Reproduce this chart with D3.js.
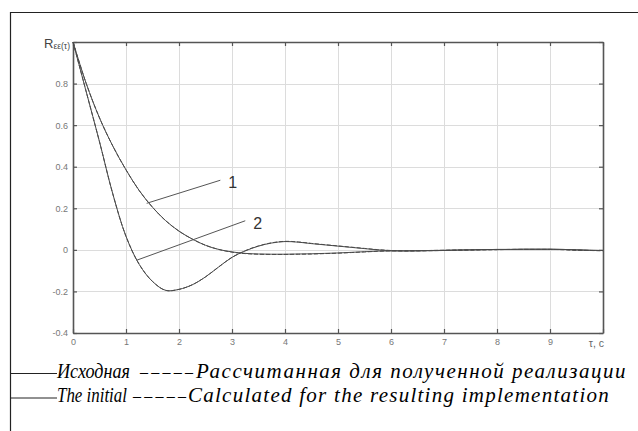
<!DOCTYPE html>
<html><head><meta charset="utf-8">
<script src="https://cdn.jsdelivr.net/npm/d3@7"></script>
<style>html,body{margin:0;padding:0;background:#fff;}svg{display:block;}</style>
</head><body>
<svg id="chart" width="638" height="431"></svg>
<script>
// ---- data ----
const tau = [0,0.25,0.5,0.75,1,1.25,1.5,1.75,2,2.25,2.5,2.75,3,3.25,3.5,3.75,4,4.25,4.5,4.75,5,5.25,5.5,5.75,6,6.25,6.5,6.75,7,7.25,7.5,7.75,8,8.25,8.5,8.75,9,9.25,9.5,9.75,10];
const r1Initial = [1.0,0.80,0.635,0.50,0.385,0.285,0.205,0.14,0.09,0.052,0.022,0.002,-0.01,-0.017,-0.02,-0.021,-0.021,-0.02,-0.019,-0.017,-0.015,-0.012,-0.009,-0.006,-0.005,-0.005,-0.004,-0.003,-0.002,-0.001,0.0,0.001,0.002,0.002,0.003,0.003,0.003,0.002,0.0,-0.002,-0.003];
const r1Calc    = [1.0,0.80,0.635,0.50,0.385,0.285,0.205,0.14,0.09,0.052,0.022,0.002,-0.011,-0.018,-0.021,-0.022,-0.022,-0.021,-0.02,-0.018,-0.016,-0.013,-0.01,-0.007,-0.005,-0.005,-0.004,-0.003,-0.002,-0.001,0.0,0.001,0.001,0.002,0.002,0.002,0.002,0.001,-0.002,-0.003,-0.004];
const r2Initial = [1.0,0.76,0.52,0.27,0.065,-0.07,-0.152,-0.195,-0.19,-0.168,-0.13,-0.082,-0.036,-0.005,0.018,0.033,0.04,0.037,0.03,0.024,0.018,0.012,0.006,0.0,-0.004,-0.005,-0.005,-0.004,-0.003,-0.001,0.0,0.001,0.002,0.002,0.003,0.003,0.003,0.002,0.0,-0.002,-0.003];
const r2Calc    = [1.0,0.76,0.52,0.27,0.065,-0.07,-0.152,-0.195,-0.19,-0.168,-0.13,-0.082,-0.036,-0.004,0.019,0.034,0.041,0.038,0.031,0.025,0.019,0.013,0.007,0.001,-0.003,-0.005,-0.005,-0.004,-0.003,-0.002,-0.001,0.0,0.001,0.002,0.002,0.002,0.002,0.001,-0.001,-0.003,-0.004];
const xTicks = [0,1,2,3,4,5,6,7,8,9,10];
const yTicks = [-0.4,-0.2,0,0.2,0.4,0.6,0.8,1.0];
const yTickLabels = ["-0.4","-0.2","0","0.2","0.4","0.6","0.8",""];
const xTickLabels = ["0","1","2","3","4","5","6","7","8","9",""];
const annotations = [
  {label:"1", from:[1.39,0.224], to:[2.78,0.335]},
  {label:"2", from:[1.20,-0.05], to:[3.25,0.14]}
];
const legendRows = [
  {solid:"Исходная", dashed:"Рассчитанная для полученной реализации"},
  {solid:"The initial", dashed:"Calculated for the resulting implementation"}
];

// ---- layout ----
const svg = d3.select("#chart");
const L = 73, R = 603, T = 42, B = 333;
const x = d3.scaleLinear().domain([0,10]).range([L,R]);
const y = d3.scaleLinear().domain([-0.4,1.0]).range([B,T]);

// outer frame
svg.append("line").attr("x1",10).attr("x2",638).attr("y1",12.5).attr("y2",12.5).attr("stroke","#222").attr("stroke-width",1.2);
svg.append("line").attr("x1",10.5).attr("x2",10.5).attr("y1",12).attr("y2",431).attr("stroke","#222").attr("stroke-width",1.2);

// grid
const grid = svg.append("g").attr("stroke","#dcdcdc").attr("stroke-width",1);
grid.selectAll("line.v").data(xTicks.slice(1,-1)).join("line")
  .attr("x1",d=>Math.round(x(d))+0.5).attr("x2",d=>Math.round(x(d))+0.5).attr("y1",T).attr("y2",B);
grid.selectAll("line.h").data(yTicks.slice(1,-1)).join("line")
  .attr("y1",d=>Math.round(y(d))+0.5).attr("y2",d=>Math.round(y(d))+0.5).attr("x1",L).attr("x2",R);

// axes
const fmtX = d=>xTickLabels[xTicks.indexOf(d)];
const fmtY = d=>yTickLabels[yTicks.findIndex(v=>Math.abs(v-d)<1e-9)];
const gB = svg.append("g").attr("transform",`translate(0,${B})`)
  .call(d3.axisBottom(x).tickValues(xTicks).tickFormat(fmtX).tickSizeInner(-4).tickSizeOuter(0).tickPadding(6));
const gT = svg.append("g").attr("transform",`translate(0,${T})`)
  .call(d3.axisTop(x).tickValues(xTicks).tickFormat("").tickSizeInner(-4).tickSizeOuter(0));
const gL = svg.append("g").attr("transform",`translate(${L},0)`)
  .call(d3.axisLeft(y).tickValues(yTicks).tickFormat(fmtY).tickSizeInner(-4).tickSizeOuter(0).tickPadding(5));
const gR = svg.append("g").attr("transform",`translate(${R},0)`)
  .call(d3.axisRight(y).tickValues(yTicks).tickFormat("").tickSizeInner(-4).tickSizeOuter(0));
[gB,gT,gL,gR].forEach(g=>{
  g.select(".domain").attr("stroke","#555").attr("stroke-width",1.6);
  g.selectAll(".tick line").attr("stroke","#555").attr("stroke-width",1.2);
  g.selectAll(".tick text").attr("fill","#777").style("font-family","'Liberation Sans', Arial, sans-serif").style("font-size","9px");
});

// axis titles
const yl = svg.append("text").attr("x",70).attr("y",48).attr("text-anchor","end")
  .style("font-family","'Liberation Sans', Arial, sans-serif").attr("fill","#444");
yl.append("tspan").text("R").style("font-size","13px");
yl.append("tspan").text("εε(τ)").style("font-size","8.5px").attr("dy",1);
svg.append("text").attr("x",R+1).attr("y",347).attr("text-anchor","end")
  .style("font-family","'Liberation Sans', Arial, sans-serif").style("font-size","10.5px").attr("fill","#666").text("τ, c");

// curves
const line = d3.line().x((d,i)=>x(tau[i])).y(d=>y(d)).curve(d3.curveCatmullRom.alpha(0.5));
const series = [
  {v:r1Initial, dash:null},
  {v:r2Initial, dash:null},
  {v:r1Calc, dash:"4,2"},
  {v:r2Calc, dash:"4,2"}
];
svg.append("g").selectAll("path").data(series).join("path")
  .attr("d",d=>line(d.v)).attr("fill","none").attr("stroke","#4a4a4a").attr("stroke-width",1)
  .attr("stroke-dasharray",d=>d.dash);

// annotations
const ann = svg.append("g");
ann.selectAll("line").data(annotations).join("line")
  .attr("x1",d=>x(d.from[0])).attr("y1",d=>y(d.from[1]))
  .attr("x2",d=>x(d.to[0])).attr("y2",d=>y(d.to[1]))
  .attr("stroke","#555").attr("stroke-width",1);
ann.selectAll("text").data(annotations).join("text")
  .attr("x",d=>x(d.to[0])+8).attr("y",d=>y(d.to[1])+8)
  .style("font-family","'Liberation Sans', Arial, sans-serif").style("font-size","16px").attr("fill","#333")
  .text(d=>d.label);

// legend (table-like rows)
const rowY = [373.5, 398];
const base = [377.5, 401.5];
const solidSpan = [[57,73],[57,70]];
const dashSpan = [[140,53],[133,53]];
const textSpan = [[196,431],[188,422]];
const lg = svg.append("g").style("font-family","'Liberation Serif', 'Times New Roman', serif").style("font-style","italic").attr("fill","#000");
function squeezeText(str, x0, yb, target, size){
  const t = lg.append("text").attr("x",0).attr("y",0).style("font-size",size+"px").text(str);
  const w = t.node().getComputedTextLength();
  const sx = w > target ? target / w : 1;
  t.attr("transform",`translate(${x0},${yb}) scale(${sx},1)`);
  return t;
}
function spreadText(str, x0, yb, target, size){
  const t = lg.append("text").attr("x",x0).attr("y",yb).style("font-size",size+"px").text(str);
  const w = t.node().getComputedTextLength();
  if (w < target - 1) t.style("letter-spacing", ((target - w)/str.length)+"px");
  else if (w > target) { t.attr("x",0).attr("y",0).attr("transform",`translate(${x0},${yb}) scale(${target/w},1)`); }
  return t;
}
legendRows.forEach((r,i)=>{
  lg.append("line").attr("x1",10).attr("x2",57).attr("y1",rowY[i]).attr("y2",rowY[i]).attr("stroke","#222").attr("stroke-width",1);
  squeezeText(r.solid, solidSpan[i][0], base[i], solidSpan[i][1], 20);
  lg.append("text").attr("x",dashSpan[i][0]).attr("y",base[i]-1).style("font-size","16px").style("font-style","normal")
    .attr("textLength",dashSpan[i][1]).attr("lengthAdjust","spacing").text("–––––");
  spreadText(r.dashed, textSpan[i][0], base[i], textSpan[i][1], 21);
});
</script>
</body></html>
